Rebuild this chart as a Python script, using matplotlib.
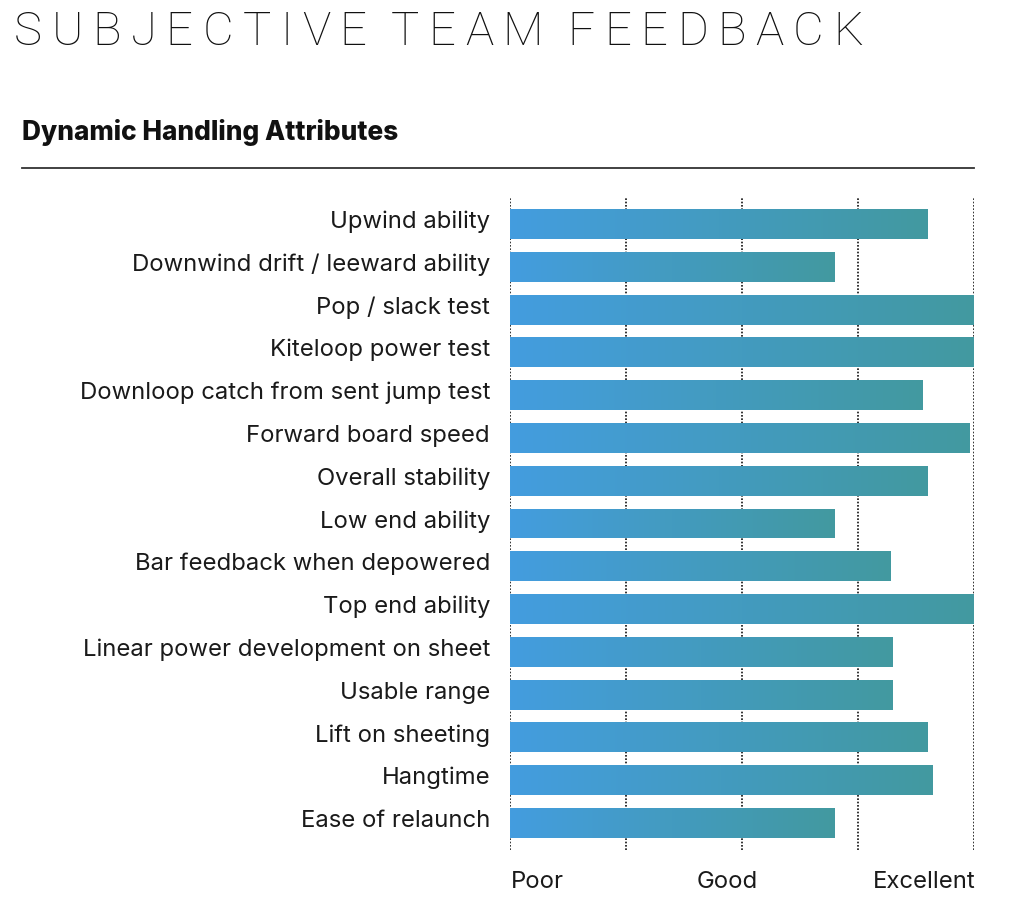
import matplotlib
matplotlib.use("Agg")
import matplotlib.pyplot as plt
import numpy as np
from matplotlib.colors import LinearSegmentedColormap

categories = [
    "Upwind ability",
    "Downwind drift / leeward ability",
    "Pop / slack test",
    "Kiteloop power test",
    "Downloop catch from sent jump test",
    "Forward board speed",
    "Overall stability",
    "Low end ability",
    "Bar feedback when depowered",
    "Top end ability",
    "Linear power development on sheet",
    "Usable range",
    "Lift on sheeting",
    "Hangtime",
    "Ease of relaunch",
]
scores = [9.0, 7.0, 10.0, 10.0, 8.9, 9.9, 9.0, 7.0, 8.2, 10.0, 8.25, 8.25, 9.0, 9.1, 7.0]
scale_labels = ["Poor", "Good", "Excellent"]
title_text = "SUBJECTIVE TEAM FEEDBACK"
subtitle_text = "Dynamic Handling Attributes"

W, H = 1026, 916
fig = plt.figure(figsize=(W / 100, H / 100), dpi=100)
fig.patch.set_facecolor("white")

ax = fig.add_axes([510 / W, (H - 850) / H, 464 / W, 652 / H])
ax.set_facecolor("none")
for s in ax.spines.values():
    s.set_visible(False)
ax.set_xticks([])
ax.set_yticks([])

# dotted grid
for gx in [0, 2.5, 5, 7.5, 10]:
    ax.axvline(gx, color="#111111", lw=1.2, ls=(0, (1, 1)), zorder=1)

cmap = LinearSegmentedColormap.from_list("g", ["#449ddf", "#4299a0"])
ypos = np.arange(len(categories))
bars = ax.barh(ypos, scores, height=0.70, color="#44a0c0", zorder=2)
grad = np.linspace(0, 1, 256).reshape(1, -1)
for b in bars:
    x0, y0 = b.get_x(), b.get_y()
    w, h = b.get_width(), b.get_height()
    im = ax.imshow(grad, cmap=cmap, aspect="auto", extent=[x0, x0 + w, y0 + h, y0],
                   zorder=3, interpolation="bilinear")
    im.set_clip_path(b)
ax.set_xlim(0, 10)
ax.set_ylim(14.63, -0.607)

lab_font = "Inter"
for i, c in enumerate(categories):
    ax.text(-0.43, i - 0.05, c, ha="right", va="center", fontsize=17.2, color="#1a1a1a",
            family=lab_font)

# scale labels
ty = 1 - 882 / H
fig.text(511 / W, ty, scale_labels[0], ha="left", va="center", fontsize=17.2,
         color="#1a1a1a", family=lab_font)
fig.text(727 / W, ty, scale_labels[1], ha="center", va="center", fontsize=17.2,
         color="#1a1a1a", family=lab_font)
fig.text(976 / W, ty, scale_labels[2], ha="right", va="center", fontsize=17.2,
         color="#1a1a1a", family=lab_font)

# subtitle and rule
fig.text(22 / W, 1 - 132 / H, subtitle_text, ha="left", va="center", fontsize=18.9,
         fontweight="heavy", color="#111111", family=lab_font)
fig.add_artist(plt.Line2D([22 / W, 974 / W], [1 - 168 / H, 1 - 168 / H],
                          color="#333333", lw=1.3, transform=fig.transFigure))

# letter-spaced title (tracking solved so the title spans x=14..882)
renderer = fig.canvas.get_renderer()
tfont = dict(fontsize=34, fontweight="light", color="#111111", family="Roboto")
chars = [c for c in title_text]
widths = []
for ch in chars:
    if ch == " ":
        widths.append(0.0)
        continue
    t = fig.text(0, 0, ch, **tfont)
    widths.append(t.get_window_extent(renderer=renderer).width)
    t.remove()
x_start, x_end = 14, 882
n_spaces = sum(1 for c in chars if c == " ")
letters_w = sum(widths)
space_factor = 2.6
n_gaps = (len(chars) - 1) - n_spaces + n_spaces * space_factor
track = (x_end - x_start - letters_w) / n_gaps
x = x_start
for ch, w in zip(chars, widths):
    if ch == " ":
        x += track * (space_factor - 1)
        continue
    fig.text(x / W, 1 - 45 / H, ch, ha="left", va="baseline", **tfont)
    x += w + track

fig.savefig("out.png", dpi=100, facecolor="white")
